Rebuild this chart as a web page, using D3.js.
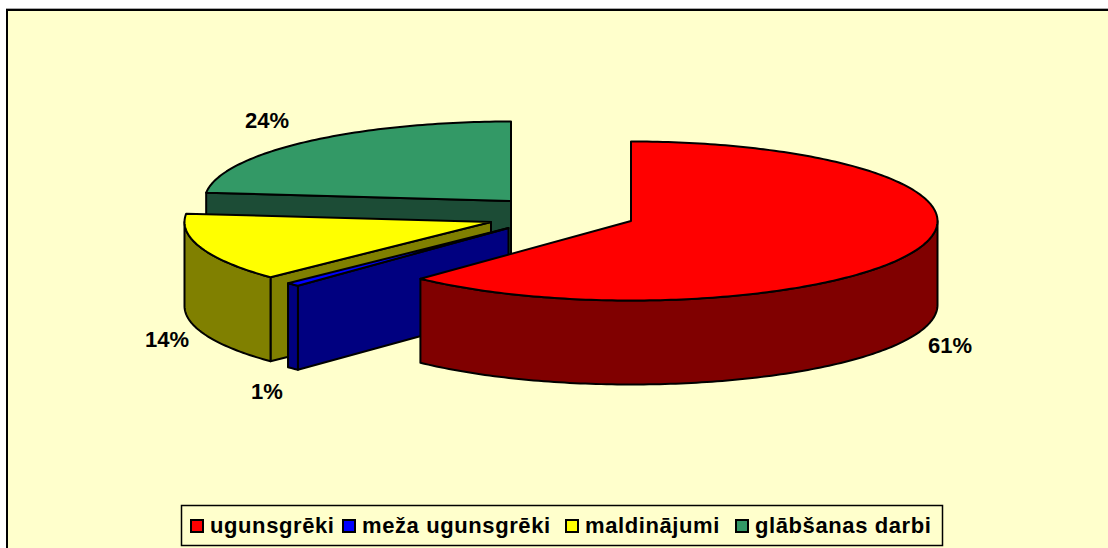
<!DOCTYPE html>
<html>
<head>
<meta charset="utf-8">
<script src="https://cdn.jsdelivr.net/npm/d3@7"></script>
<style>
  html, body { margin: 0; padding: 0; background: #fff; overflow: hidden; }
  text { font-family: "Liberation Sans", Arial, sans-serif; font-weight: bold; fill: #000; }
</style>
</head>
<body>
<div id="chart"></div>
<script>
// data
var categories = ["ugunsgrēki", "meža ugunsgrēki", "maldinājumi", "glābšanas darbi"];
var values = [61, 1, 14, 24];
var topColors = ["#ff0000", "#0000ff", "#ffff00", "#339966"];
var sideColors = ["#800000", "#000080", "#808000", "#1c4c36"];

var width = 1108, height = 548;

// every slice is pulled out of the pie, so each one has its own centre
var centers = [[631, 221], [508.5, 228], [491, 222], [511, 201]];
var labelPos = [[950, 353], [267, 399], [167, 347], [267, 128]];
var legendX = [190, 342, 565, 735];

var svg = d3.select("#chart")
  .append("svg")
    .attr("width", width)
    .attr("height", height)
    .style("display", "block");

// frame and background, the frame runs off the page on the right and bottom
svg.append("rect")
  .attr("x", 6).attr("y", 8)
  .attr("width", width).attr("height", 1)
  .attr("fill", "#aaaaaa");
svg.append("rect")
  .attr("x", 7).attr("y", 10)
  .attr("width", width + 20).attr("height", height + 20)
  .attr("fill", "#ffffcc")
  .attr("stroke", "#000")
  .attr("stroke-width", 2);

var pie = d3.pie().sort(null).value(function(d) { return d; });
var arcs = pie(values);

// the 3D view of the original bends the angles a little, this maps the
// cumulative angle of the pie to the angle as drawn on the ellipse
var deg = Math.PI / 180;
var warp = d3.scaleLinear()
  .domain([0, 61, 62, 76, 100].map(function(p) { return p * 3.6 * deg; }))
  .range([0, 223.4, 226, 276, 360].map(function(a) { return a * deg; }));

var ex = d3.scaleLinear().domain([-1, 1]).range([-306.5, 306.5]);
var ey = d3.scaleLinear().domain([-1, 1]).range([-79.5, 79.5]);
var depth = 84;

function pointAt(c, a, dy) {
  return [c[0] + ex(Math.sin(a)), c[1] - ey(Math.cos(a)) + (dy || 0)];
}
function arcPoints(c, a0, a1, dy) {
  var n = Math.max(2, Math.ceil((a1 - a0) / (1 * deg)));
  return d3.range(n + 1).map(function(i) {
    return pointAt(c, a0 + (a1 - a0) * i / n, dy);
  });
}

var line = d3.line();

function drawFace(points, fill) {
  svg.append("path")
    .attr("d", line(points) + "Z")
    .attr("fill", fill)
    .attr("stroke", "#000")
    .attr("stroke-width", 2)
    .attr("stroke-linejoin", "round");
}

// back to front
[3, 2, 1, 0].forEach(function(i) {
  var c = centers[i];
  var a0 = warp(arcs[i].startAngle);
  var a1 = warp(arcs[i].endAngle);
  var half = 90 * deg, back = 270 * deg;

  // wall along the radial edge that faces the viewer
  if (i != 0) {
    var e = pointAt(c, a0);
    drawFace([e, c, [c[0], c[1] + depth], [e[0], e[1] + depth]], sideColors[i]);
  }

  // outer wall, only the lower half of the ellipse can be seen
  var w0 = Math.max(a0, half), w1 = Math.min(a1, back);
  if (w1 > w0) {
    drawFace(arcPoints(c, w0, w1).concat(arcPoints(c, w0, w1, depth).reverse()), sideColors[i]);
  }

  // top face
  drawFace([c].concat(arcPoints(c, a0, a1)), topColors[i]);
});

// value labels
svg.selectAll(".label")
  .data(values)
  .enter()
  .append("text")
    .attr("class", "label")
    .attr("x", function(d, i) { return labelPos[i][0]; })
    .attr("y", function(d, i) { return labelPos[i][1]; })
    .attr("text-anchor", "middle")
    .attr("font-size", 22)
    .text(function(d) { return d + "%"; });

// legend
svg.append("rect")
  .attr("x", 181.5).attr("y", 505.5)
  .attr("width", 761).attr("height", 40)
  .attr("fill", "#ffffcc")
  .attr("stroke", "#000")
  .attr("stroke-width", 1.5);

var items = svg.selectAll(".item")
  .data(categories)
  .enter()
  .append("g")
    .attr("class", "item")
    .attr("transform", function(d, i) { return "translate(" + legendX[i] + ",0)"; });

items.append("rect")
  .attr("x", 1).attr("y", 520)
  .attr("width", 12).attr("height", 12)
  .attr("fill", function(d, i) { return topColors[i]; })
  .attr("stroke", "#000")
  .attr("stroke-width", 2);

items.append("text")
  .attr("x", 20)
  .attr("y", 533)
  .attr("font-size", 22)
  .attr("letter-spacing", 0.6)
  .text(function(d) { return d; });
</script>
</body>
</html>
